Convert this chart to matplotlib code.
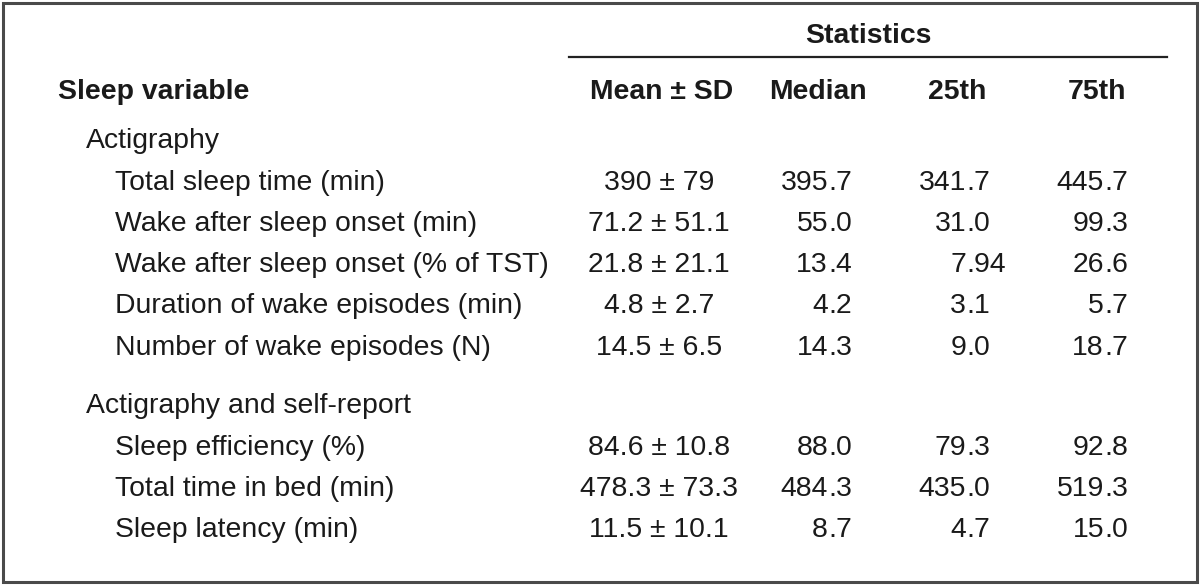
import matplotlib.pyplot as plt
from matplotlib.patches import Rectangle

# table contents
groups = ['Actigraphy', 'Actigraphy and self-report']
variables = [
    ['Total sleep time (min)', 'Wake after sleep onset (min)',
     'Wake after sleep onset (% of TST)', 'Duration of wake episodes (min)',
     'Number of wake episodes (N)'],
    ['Sleep efficiency (%)', 'Total time in bed (min)', 'Sleep latency (min)'],
]
means = ['390', '71.2', '21.8', '4.8', '14.5', '84.6', '478.3', '11.5']
sds = ['79', '51.1', '21.1', '2.7', '6.5', '10.8', '73.3', '10.1']
medians = ['395.7', '55.0', '13.4', '4.2', '14.3', '88.0', '484.3', '8.7']
p25 = ['341.7', '31.0', '7.94', '3.1', '9.0', '79.3', '435.0', '4.7']
p75 = ['445.7', '99.3', '26.6', '5.7', '18.7', '92.8', '519.3', '15.0']
col_heads = ['Mean ± SD', 'Median', '25th', '75th']

W, H = 1200, 585
fig = plt.figure(figsize=(W / 100, H / 100), dpi=100)
ax = fig.add_axes([0, 0, 1, 1])
ax.set_xlim(0, W)
ax.set_ylim(H, 0)
ax.axis('off')

fam = ['Liberation Sans', 'DejaVu Sans']
fs = 20.4
tc = '#1a1a1a'

ax.add_patch(Rectangle((3, 3), W - 6, H - 6, fill=False, ec='#4a4a4a', lw=2.2))

# header
ax.text(868, 36, 'Statistics', ha='center', va='center', fontsize=fs,
        fontweight='bold', family=fam, color=tc)
ax.plot([569, 1167], [57, 57], color='#222222', lw=1.6)
ax.text(58, 92, 'Sleep variable', ha='left', va='center', fontsize=fs,
        fontweight='bold', family=fam, color=tc)
head_x = [733, 867, 986, 1126]
for x, h in zip(head_x, col_heads):
    ax.text(x, 92, h, ha='right', va='center', fontsize=fs,
            fontweight='bold', family=fam, color=tc)

def dec(x, y, s):
    # decimal aligned number, x is the position of the decimal point
    if '.' in s:
        a, b = s.split('.')
        ax.text(x, y, a, ha='right', va='center', fontsize=fs, family=fam, color=tc)
        ax.text(x, y, '.' + b, ha='left', va='center', fontsize=fs, family=fam, color=tc)
    else:
        ax.text(x, y, s, ha='right', va='center', fontsize=fs, family=fam, color=tc)

group_y = [141, 406]
row_y = [[183, 224, 265, 306, 348], [448, 489, 530]]
k = 0
for g, gy, names, ys in zip(groups, group_y, variables, row_y):
    ax.text(86, gy, g, ha='left', va='center', fontsize=fs, family=fam, color=tc)
    for name, y in zip(names, ys):
        ax.text(115, y, name, ha='left', va='center', fontsize=fs, family=fam, color=tc)
        ax.text(659, y, f'{means[k]} ± {sds[k]}', ha='center', va='center',
                fontsize=fs, family=fam, color=tc)
        dec(828, y, medians[k])
        dec(966, y, p25[k])
        dec(1104, y, p75[k])
        k += 1

fig.savefig('out.png', dpi=100)
plt.close()
